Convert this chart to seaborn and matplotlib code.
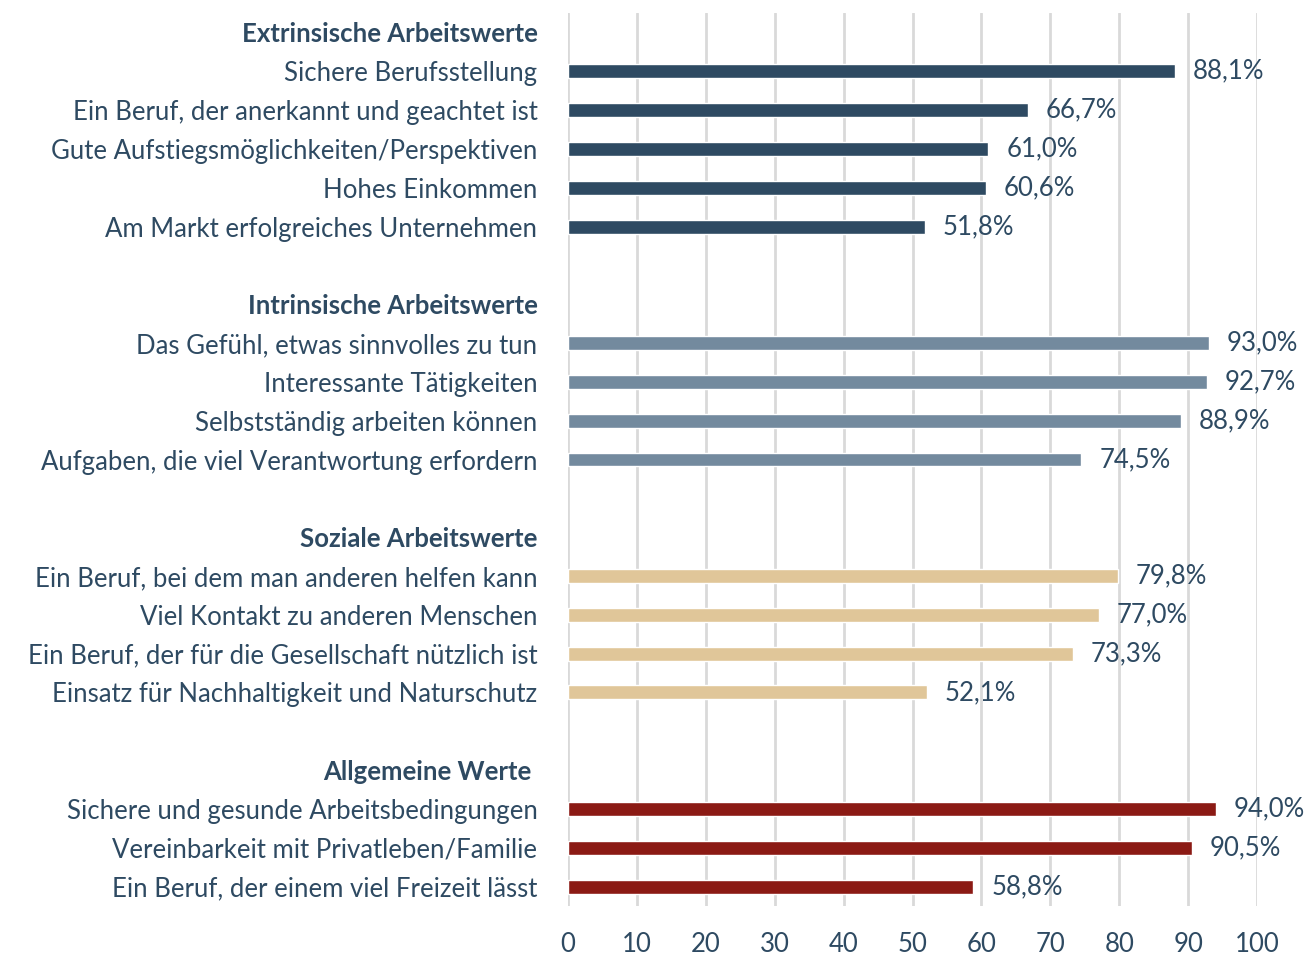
import pandas as pd
import matplotlib.pyplot as plt
import seaborn as sns

# Daten
gruppen = ["Extrinsische Arbeitswerte", "Intrinsische Arbeitswerte",
           "Soziale Arbeitswerte", "Allgemeine Werte "]
extrinsisch = ["Sichere Berufsstellung", "Ein Beruf, der anerkannt und geachtet ist",
               "Gute Aufstiegsmöglichkeiten/Perspektiven", "Hohes Einkommen",
               "Am Markt erfolgreiches Unternehmen"]
extrinsisch_werte = [88.1, 66.7, 61.0, 60.6, 51.8]
intrinsisch = ["Das Gefühl, etwas sinnvolles zu tun", "Interessante Tätigkeiten",
               "Selbstständig arbeiten können", "Aufgaben, die viel Verantwortung erfordern"]
intrinsisch_werte = [93.0, 92.7, 88.9, 74.5]
sozial = ["Ein Beruf, bei dem man anderen helfen kann", "Viel Kontakt zu anderen Menschen",
          "Ein Beruf, der für die Gesellschaft nützlich ist",
          "Einsatz für Nachhaltigkeit und Naturschutz"]
sozial_werte = [79.8, 77.0, 73.3, 52.1]
allgemein = ["Sichere und gesunde Arbeitsbedingungen", "Vereinbarkeit mit Privatleben/Familie",
             "Ein Beruf, der einem viel Freizeit lässt"]
allgemein_werte = [94.0, 90.5, 58.8]

farben = ["#2E4A62", "#738A9E", "#E0C699", "#8B1A14"]
textfarbe = "#2E4A62"

items = [extrinsisch, intrinsisch, sozial, allgemein]
werte = [extrinsisch_werte, intrinsisch_werte, sozial_werte, allgemein_werte]

rows = []
order = []
for i, (g, it, w) in enumerate(zip(gruppen, items, werte)):
    if i > 0:
        order.append(" " * i)
    order.append(g)
    for name, v in zip(it, w):
        order.append(name)
        rows.append({"Item": name, "Wert": v, "Gruppe": g})
df = pd.DataFrame(rows)

sns.set_style("white")
plt.rcParams["font.family"] = ["Lato", "DejaVu Sans"]

fig = plt.figure(figsize=(13.16, 9.56), dpi=100)
ax = fig.add_axes([0.4316, 0.0523, 0.5236, 0.9341])
sns.barplot(data=df, x="Wert", y="Item", hue="Gruppe", order=order,
            palette=farben, saturation=1, dodge=False, width=0.36,
            legend=False, ax=ax)

for c in ax.containers:
    ax.bar_label(c, labels=[f"{b.get_width():.1f}%".replace(".", ",") for b in c],
                 padding=13, fontsize=18.5, color=textfarbe)

ax.set_xlim(0, 100)
ax.set_xticks(range(0, 101, 10))
ax.grid(axis="x", color="#D9D9D9", linewidth=2)
ax.set_axisbelow(True)
sns.despine(ax=ax, left=True, bottom=True)
ax.set_xlabel("")
ax.set_ylabel("")
ax.tick_params(axis="both", length=0, labelsize=18.5, labelcolor=textfarbe)
ax.tick_params(axis="y", pad=22)
ax.tick_params(axis="x", pad=19)
for lbl in ax.get_yticklabels():
    if lbl.get_text() in gruppen:
        lbl.set_fontweight("bold")

fig.savefig("out.png", dpi=100)
